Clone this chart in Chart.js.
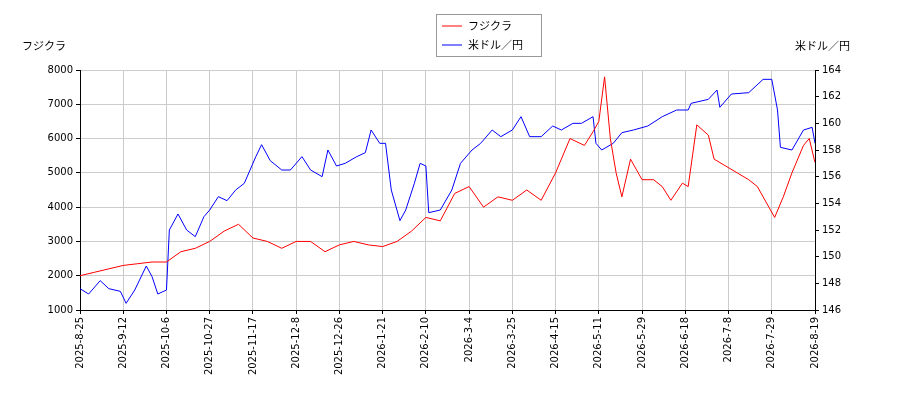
<!DOCTYPE html>
<html><head><meta charset="utf-8">
<script src="https://cdn.jsdelivr.net/npm/chart.js@4"></script>
<style>body{margin:0;background:#fff}#wrap{width:900px;height:400px}</style>
</head><body><div id="wrap"><canvas id="c"></canvas></div>
<script>
// tick labels every 15 trading days
const tickLabels = ['2025-8-25','2025-9-12','2025-10-6','2025-10-27','2025-11-17','2025-12-8','2025-12-26','2026-1-21','2026-2-10','2026-3-4','2026-3-25','2026-4-15','2026-5-11','2026-5-29','2026-6-18','2026-7-8','2026-7-29','2026-8-19'];

// フジクラ (trading-day index, price)
const fujiIdx = [0,5,10,15,20,25,30,35,40,45,50,55,60,65,70,75,80,85,90,95,100,105,110,115,120,125,130,135,140,145,150,155,160,165,170,175,178,180,182,184,186,188,191,195,199,202,205,209,211,214,218,220,224,228,232,235,239,241,244,247,251,253,255];
const fujiVals = [2000,2100,2200,2300,2350,2400,2400,2700,2800,3000,3300,3500,3100,3000,2800,3000,3000,2700,2900,3000,2900,2850,3000,3300,3700,3600,4400,4600,4000,4300,4200,4500,4200,5000,6000,5800,6200,6500,7800,6000,5000,4300,5400,4800,4800,4600,4200,4700,4600,6400,6100,5400,5200,5000,4800,4600,4000,3700,4300,5000,5800,6000,5300];

// 米ドル／円
const usdIdx = [0,3,7,10,14,16,19,23,25,27,30,31,34,37,40,43,45,48,51,54,57,61,63,66,70,73,77,80,84,86,89,92,96,99,101,104,106,108,111,113,116,118,120,121,125,129,132,136,139,143,146,150,153,156,160,164,167,171,174,178,179,181,185,188,192,197,202,207,211,212,218,221,222,226,232,237,240,242,243,247,251,254,255];
const usdVals = [147.6,147.2,148.2,147.6,147.4,146.5,147.5,149.3,148.5,147.2,147.5,152,153.2,152,151.5,153,153.5,154.5,154.2,155,155.5,157.5,158.4,157.2,156.5,156.5,157.5,156.5,156,158,156.8,157,157.5,157.8,159.5,158.5,158.5,155,152.7,153.5,155.5,157,156.8,153.3,153.5,155,157,158,158.5,159.5,159,159.5,160.5,159,159,159.8,159.5,160,160,160.5,158.5,158,158.5,159.3,159.5,159.8,160.5,161,161,161.5,161.8,162.5,161.2,162.2,162.3,163.3,163.3,161,158.2,158,159.5,159.7,158.5];

const FONT = '"Noto Sans CJK JP"';

const extras = {
  id: 'extras',
  afterDraw(chart) {
    const ctx = chart.ctx;
    ctx.save();
    ctx.font = '11px ' + FONT;
    ctx.fillStyle = '#000';
    ctx.textBaseline = 'middle';
    ctx.textAlign = 'left';
    ctx.fillText('フジクラ', 22, 46);
    ctx.textAlign = 'right';
    ctx.fillText('米ドル／円', 850, 46);
    // legend box
    ctx.fillStyle = '#fff';
    ctx.strokeStyle = '#999';
    ctx.lineWidth = 1;
    ctx.fillRect(436.5, 14.5, 105, 42);
    ctx.strokeRect(436.5, 14.5, 105, 42);
    chart.data.datasets.forEach((ds, i) => {
      const y = 26 + i * 19;
      ctx.strokeStyle = ds.borderColor;
      ctx.beginPath(); ctx.moveTo(442, y); ctx.lineTo(462, y); ctx.stroke();
      ctx.fillStyle = '#000';
      ctx.textAlign = 'left';
      ctx.fillText(ds.label, 468, y);
    });
    ctx.restore();
  }
};

new Chart(document.getElementById('c'), {
  type: 'line',
  data: {
    datasets: [{
      label: 'フジクラ',
      data: fujiIdx.map((x, i) => ({x: x, y: fujiVals[i]})),
      borderColor: 'red', borderWidth: 1, pointRadius: 0, yAxisID: 'y'
    }, {
      label: '米ドル／円',
      data: usdIdx.map((x, i) => ({x: x, y: usdVals[i]})),
      borderColor: 'blue', borderWidth: 1, pointRadius: 0, yAxisID: 'y1'
    }]
  },
  options: {
    responsive: true, maintainAspectRatio: false, animation: false,
    layout: {padding: {left: 0, right: 0, top: 70, bottom: 0}},
    plugins: {legend: {display: false}, tooltip: {enabled: false}},
    scales: {
      x: {
        type: 'linear', min: 0, max: 255,
        afterBuildTicks: ax => { ax.ticks = tickLabels.map((t, i) => ({value: i * 15})); },
        afterFit: ax => { ax.height = 90; },
        ticks: {
          maxRotation: 90, minRotation: 90, autoSkip: false,
          font: {size: 10, family: 'DejaVu Sans'}, color: '#000',
          callback: (v) => tickLabels[Math.round(v / 15)]
        },
        grid: {color: '#ccc', tickColor: '#000', tickLength: 4},
        border: {color: '#000'}
      },
      y: {
        position: 'left', min: 1000, max: 8000,
        afterFit: ax => { ax.width = 80; },
        ticks: {stepSize: 1000, font: {size: 10, family: 'DejaVu Sans'}, color: '#000', callback: v => String(v)},
        grid: {color: '#ccc', tickColor: '#000', tickLength: 4},
        border: {color: '#000'}
      },
      y1: {
        position: 'right', min: 146, max: 164,
        afterFit: ax => { ax.width = 85; },
        ticks: {stepSize: 2, font: {size: 10, family: 'DejaVu Sans'}, color: '#000'},
        grid: {drawOnChartArea: false, tickColor: '#000', tickLength: 4},
        border: {color: '#000'}
      }
    }
  },
  plugins: [extras]
});
</script></body></html>
